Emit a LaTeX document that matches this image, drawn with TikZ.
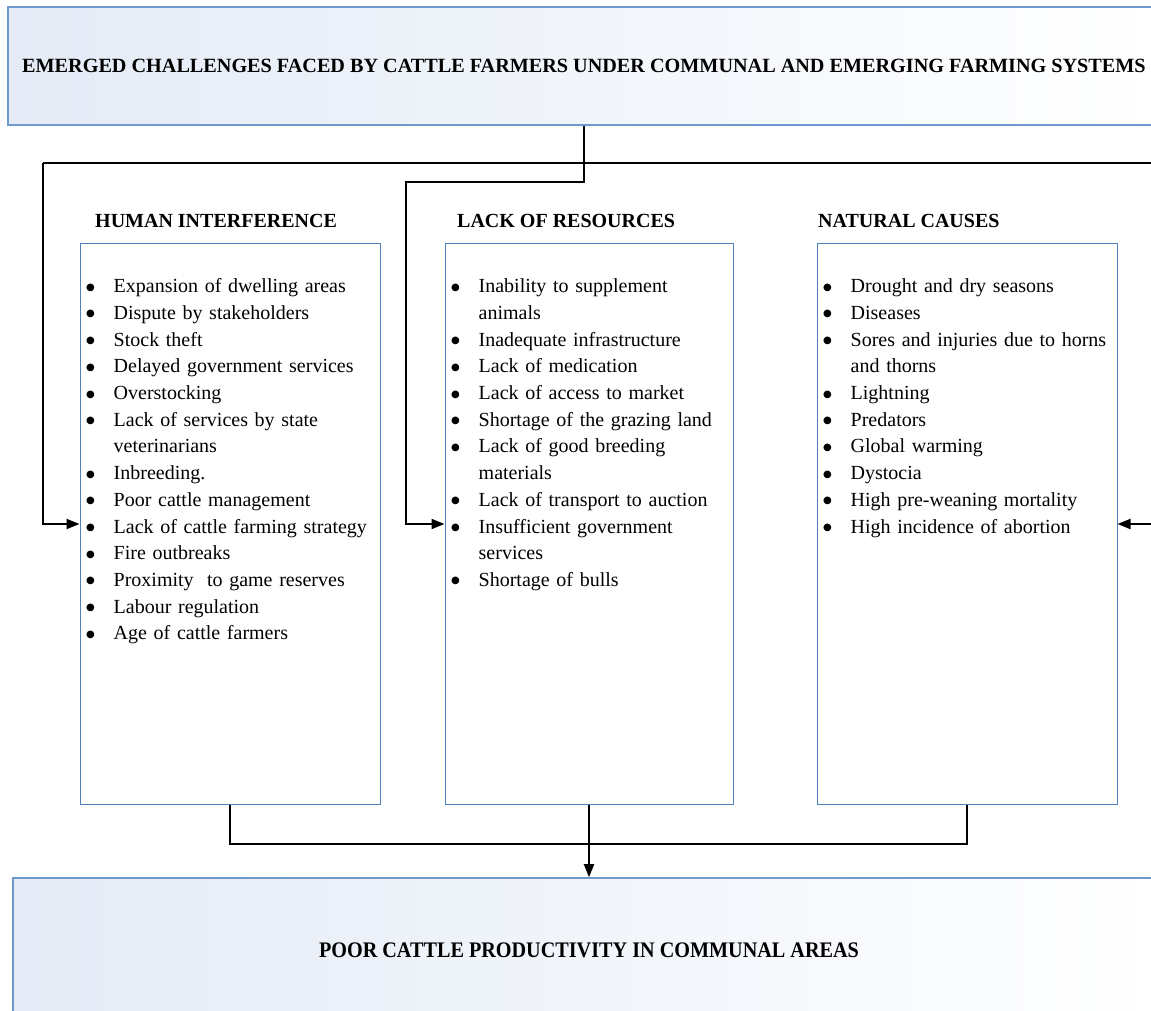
\documentclass[tikz,border=0pt]{standalone}
\usepackage{graphicx}
\usepackage{fontspec}
\setmainfont{Liberation Serif}
\newfontfamily\symfont{DejaVu Sans}
\usetikzlibrary{arrows.meta,calc}
\definecolor{listblue}{RGB}{79,129,189}
\definecolor{headblue}{RGB}{110,153,204}
\definecolor{shadeblue}{RGB}{228,235,246}
\newcommand\bul{\makebox[28.5pt][l]{\hspace{1pt}\raisebox{2.5pt}{\fontsize{10}{10}\symfont ●}}}
\newcommand\cont{\makebox[28.5pt][l]{}}
\begin{document}
\begin{tikzpicture}[x=1pt,y=-1pt,
  headbox/.style={draw=headblue, line width=1.6pt, left color=shadeblue, right color=white, inner sep=0pt, font=\fontsize{20.2}{24}\selectfont\bfseries},
  listbox/.style={draw=listblue, line width=1pt, fill=white, inner sep=0pt, minimum height=561pt},
  listtext/.style={anchor=north west, inner sep=0pt, text width=320pt, align=left, font=\fontsize{20}{26.7}\selectfont},
  headlabel/.style={anchor=west, inner sep=0pt, font=\fontsize{20}{24}\selectfont\bfseries},
  conn/.style={line width=1.9pt, black},
  arr/.style={conn, -{Triangle[length=13pt,width=10pt]}}]
\path[use as bounding box] (0,0) rectangle (1151,1010);
\fill[white] (0,0) rectangle (1151,1010);
\clip (0,0) rectangle (1151,1010);

% header boxes
\node[headbox, minimum width=1152pt, minimum height=118pt] (top) at (584,66)
  {EMERGED CHALLENGES FACED BY CATTLE FARMERS UNDER COMMUNAL AND EMERGING FARMING SYSTEMS};
\node[headbox, minimum width=1152pt, minimum height=144pt] (bottom) at (589,950)
  {\scalebox{1}[1.1]{POOR CATTLE PRODUCTIVITY IN COMMUNAL AREAS}};

% category boxes
\node[listbox, minimum width=300pt] (hi) at (230,523.5) {};
\node[listbox, minimum width=288pt] (lr) at (589,523.5) {};
\node[listbox, minimum width=300pt] (nc) at (967,523.5) {};

% category titles
\node[headlabel] (hihead) at (95,221) {HUMAN INTERFERENCE};
\node[headlabel] (lrhead) at (457,221) {LACK OF RESOURCES};
\node[headlabel] (nchead) at (818,221) {NATURAL CAUSES};

% lists
\node[listtext] (hitext) at ($(hi.north west)+(5.5,35)$) {\rule{0pt}{15pt}%
\bul Expansion of dwelling areas\\
\bul Dispute by stakeholders\\
\bul Stock theft\\
\bul Delayed government services\\
\bul Overstocking\\
\bul Lack of services by state\\
\cont veterinarians\\
\bul Inbreeding.\\
\bul Poor cattle management\\
\bul Lack of cattle farming strategy\\
\bul Fire outbreaks\\
\bul Proximity~ to game reserves\\
\bul Labour regulation\\
\bul Age of cattle farmers};

\node[listtext] (lrtext) at ($(lr.north west)+(5.5,35)$) {\rule{0pt}{15pt}%
\bul Inability to supplement\\
\cont animals\\
\bul Inadequate infrastructure\\
\bul Lack of medication\\
\bul Lack of access to market\\
\bul Shortage of the grazing land\\
\bul Lack of good breeding\\
\cont materials\\
\bul Lack of transport to auction\\
\bul Insufficient government\\
\cont services\\
\bul Shortage of bulls};

\node[listtext] (nctext) at ($(nc.north west)+(5.5,35)$) {\rule{0pt}{15pt}%
\bul Drought and dry seasons\\
\bul Diseases\\
\bul Sores and injuries due to horns\\
\cont and thorns\\
\bul Lightning\\
\bul Predators\\
\bul Global warming\\
\bul Dystocia\\
\bul High pre-weaning mortality\\
\bul High incidence of abortion};

% connectors
\coordinate (jl) at (43,163);
\coordinate (jr) at (1175,163);
\coordinate (jm) at (406,182);
\coordinate (jb) at (0,844);
\coordinate (ain) at (0,524);
\draw[conn] (jl) -- (jr);
\draw[arr] (jl) |- (hi.west |- ain);
\draw[arr] (jr) |- (nc.east |- ain);
\draw[arr] (top.south) |- (jm) |- (lr.west |- ain);
\draw[conn] (hi.south) |- (jb -| lr.south) -| (nc.south);
\draw[arr] (lr.south) -- (bottom.north);
\end{tikzpicture}
\end{document}
